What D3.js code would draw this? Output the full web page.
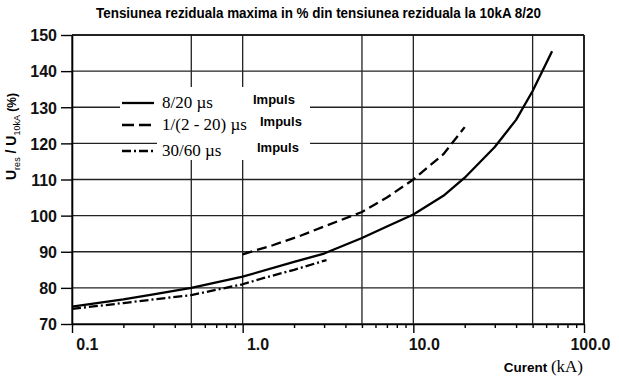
<!DOCTYPE html>
<html>
<head>
<meta charset="utf-8">
<script src="https://cdn.jsdelivr.net/npm/d3@7"></script>
<style>
  body { margin: 0; background: #fff; }
  svg { display: block; }
</style>
</head>
<body>
<svg id="chart" width="619" height="381"></svg>
<script>
// values (current in kA, residual voltage in %)
var current820 = [0.1, 0.2, 0.3, 0.5, 1, 2, 3, 5, 7, 10, 15, 20, 30, 40, 50, 65];
var ures820 = [74.8, 76.8, 78.2, 80, 83.1, 87.2, 89.5, 93.8, 97, 100.3, 105.5, 110.5, 119, 126.5, 134.5, 145.5];

var current1_20 = [1, 1.5, 2.2, 3, 5, 7, 10, 15, 20];
var ures1_20 = [89.3, 91.8, 94.5, 97, 101, 105, 110, 117, 124.5];

var current3060 = [0.1, 0.2, 0.3, 0.5, 1, 1.3, 2, 3.1];
var ures3060 = [74.2, 75.8, 76.8, 78, 81, 82.6, 85, 87.7];

var yTicks = [70, 80, 90, 100, 110, 120, 130, 140, 150];
var xLabelTicks = [0.1, 1, 10, 100];
var xLabels = ["0.1", "1.0", "10.0", "100.0"];
var xGrid = [0.1, 0.5, 1, 5, 10, 50, 100];
var xMinor = [0.2, 0.3, 0.4, 0.5, 0.6, 0.7, 0.8, 0.9, 2, 3, 4, 5, 6, 7, 8, 9, 20, 30, 40, 50, 60, 70, 80, 90];

var legendLabels = ["8/20 \u00b5s", "1/(2 - 20) \u00b5s", "30/60 \u00b5s"];

// plot box (window.top is read-only, so no bare "top" here)
var plotLeft = 72, plotRight = 584, plotTop = 35, plotBottom = 324;
var svg = d3.select("#chart");

var x = d3.scaleLog().domain([0.1, 100]).range([plotLeft, plotRight]);
var y = d3.scaleLinear().domain([70, 150]).range([plotBottom, plotTop]);

// grid
svg.append("g").selectAll("line").data(yTicks).enter().append("line")
    .attr("x1", plotLeft).attr("x2", plotRight)
    .attr("y1", function(d) { return y(d); }).attr("y2", function(d) { return y(d); })
    .attr("stroke", "#222").attr("stroke-width", 1.3);

svg.append("g").selectAll("line").data(xGrid).enter().append("line")
    .attr("x1", function(d) { return x(d); }).attr("x2", function(d) { return x(d); })
    .attr("y1", plotTop).attr("y2", plotBottom)
    .attr("stroke", "#222").attr("stroke-width", 1.3);

// legend backdrop hides the grid under it
svg.append("rect").attr("x", 120).attr("y", 87).attr("width", 190).attr("height", 38).attr("fill", "#fff");
svg.append("rect").attr("x", 157).attr("y", 125).attr("width", 153).attr("height", 35).attr("fill", "#fff");

// axes
var yAxis = svg.append("g")
    .attr("transform", "translate(" + plotLeft + ",0)")
    .call(d3.axisLeft(y).tickValues(yTicks).tickSize(11).tickSizeOuter(0).tickFormat(d3.format("d")));
yAxis.select(".domain").attr("stroke-width", 1.6);
yAxis.selectAll(".tick line").attr("stroke-width", 1.4);
yAxis.selectAll(".tick text")
    .attr("x", -15).attr("dy", "0.36em")
    .style("font-family", "'Liberation Sans', Arial, sans-serif")
    .style("font-size", "16px").style("font-weight", "bold").attr("fill", "#111");

var xAxisMinor = svg.append("g")
    .attr("transform", "translate(0," + plotBottom + ")")
    .call(d3.axisBottom(x).tickValues(xMinor).tickSize(4).tickSizeOuter(0).tickFormat(""));
xAxisMinor.select(".domain").attr("stroke-width", 1.6);
xAxisMinor.selectAll(".tick line").attr("stroke-width", 1.4);

var xAxis = svg.append("g")
    .attr("transform", "translate(0," + plotBottom + ")")
    .call(d3.axisBottom(x).tickValues(xLabelTicks).tickSize(9).tickSizeOuter(0)
        .tickFormat(function(d, i) { return xLabels[i]; }));
xAxis.select(".domain").remove();
xAxis.selectAll(".tick line").attr("stroke-width", 1.4);
xAxis.selectAll(".tick text")
    .attr("y", 26).attr("dy", 0).attr("dx", 26).attr("text-anchor", "end")
    .style("font-family", "'Liberation Sans', Arial, sans-serif")
    .style("font-size", "16px").style("font-weight", "bold").attr("fill", "#111");

// frame top and right
svg.append("line").attr("x1", plotLeft).attr("x2", plotRight).attr("y1", plotTop).attr("y2", plotTop)
    .attr("stroke", "#111").attr("stroke-width", 1.6);
svg.append("line").attr("x1", plotRight).attr("x2", plotRight).attr("y1", plotTop).attr("y2", plotBottom)
    .attr("stroke", "#111").attr("stroke-width", 1.6);

// curves
var line = d3.line()
    .x(function(d) { return x(d[0]); })
    .y(function(d) { return y(d[1]); });

var series = [
    { c: current820, u: ures820, dash: null },
    { c: current1_20, u: ures1_20, dash: "10,5" },
    { c: current3060, u: ures3060, dash: "9,3,2,3" }
];

series.forEach(function(s) {
    svg.append("path")
        .datum(d3.zip(s.c, s.u))
        .attr("fill", "none")
        .attr("stroke", "#000")
        .attr("stroke-width", 2.3)
        .attr("stroke-linejoin", "round")
        .attr("stroke-dasharray", s.dash)
        .attr("d", line);
});

// legend
var lg = svg.append("g");
legendLabels.forEach(function(label, i) {
    var ly = [103, 125, 151][i];
    lg.append("line")
        .attr("x1", 122).attr("x2", i === 1 ? 151 : 154)
        .attr("y1", ly).attr("y2", ly)
        .attr("stroke", "#000").attr("stroke-width", 2.3)
        .attr("stroke-dasharray", series[i].dash === "10,5" ? "12,5" : series[i].dash);
    lg.append("text")
        .attr("x", 162).attr("y", ly + 5)
        .style("font-family", "'Liberation Serif', 'Times New Roman', serif")
        .style("font-size", "17px")
        .text(label);
    lg.append("text")
        .attr("x", [253, 260, 257][i]).attr("y", ly + 1)
        .style("font-family", "'Liberation Sans', Arial, sans-serif")
        .style("font-size", "13px").style("font-weight", "bold")
        .text("Impuls");
});

// title
svg.append("text")
    .attr("x", 96).attr("y", 18)
    .attr("textLength", 445).attr("lengthAdjust", "spacingAndGlyphs")
    .style("font-family", "'Liberation Sans', Arial, sans-serif")
    .style("font-size", "14.5px").style("font-weight", "bold")
    .text("Tensiunea reziduala maxima in % din tensiunea reziduala la 10kA 8/20");

// x axis title
var xt = svg.append("text")
    .attr("x", 583).attr("y", 372).attr("text-anchor", "end");
xt.append("tspan")
    .style("font-family", "'Liberation Sans', Arial, sans-serif")
    .style("font-size", "13.5px").style("font-weight", "bold")
    .text("Curent ");
xt.append("tspan")
    .style("font-family", "'Liberation Serif', 'Times New Roman', serif")
    .style("font-size", "17px")
    .text("(kA)");

// y axis title
var yt = svg.append("text")
    .attr("transform", "translate(16,180) rotate(-90)")
    .style("font-family", "'Liberation Sans', Arial, sans-serif")
    .style("font-size", "14px").style("font-weight", "bold");
yt.append("tspan").text("U");
yt.append("tspan").attr("dy", 4).style("font-size", "9px").style("font-weight", "normal").text("res");
yt.append("tspan").attr("dy", -4).text(" / U");
yt.append("tspan").attr("dy", 4).style("font-size", "9px").style("font-weight", "normal").text("10kA");
yt.append("tspan").attr("dy", -4).style("font-size", "12px").text(" (%)");
</script>
</body>
</html>
